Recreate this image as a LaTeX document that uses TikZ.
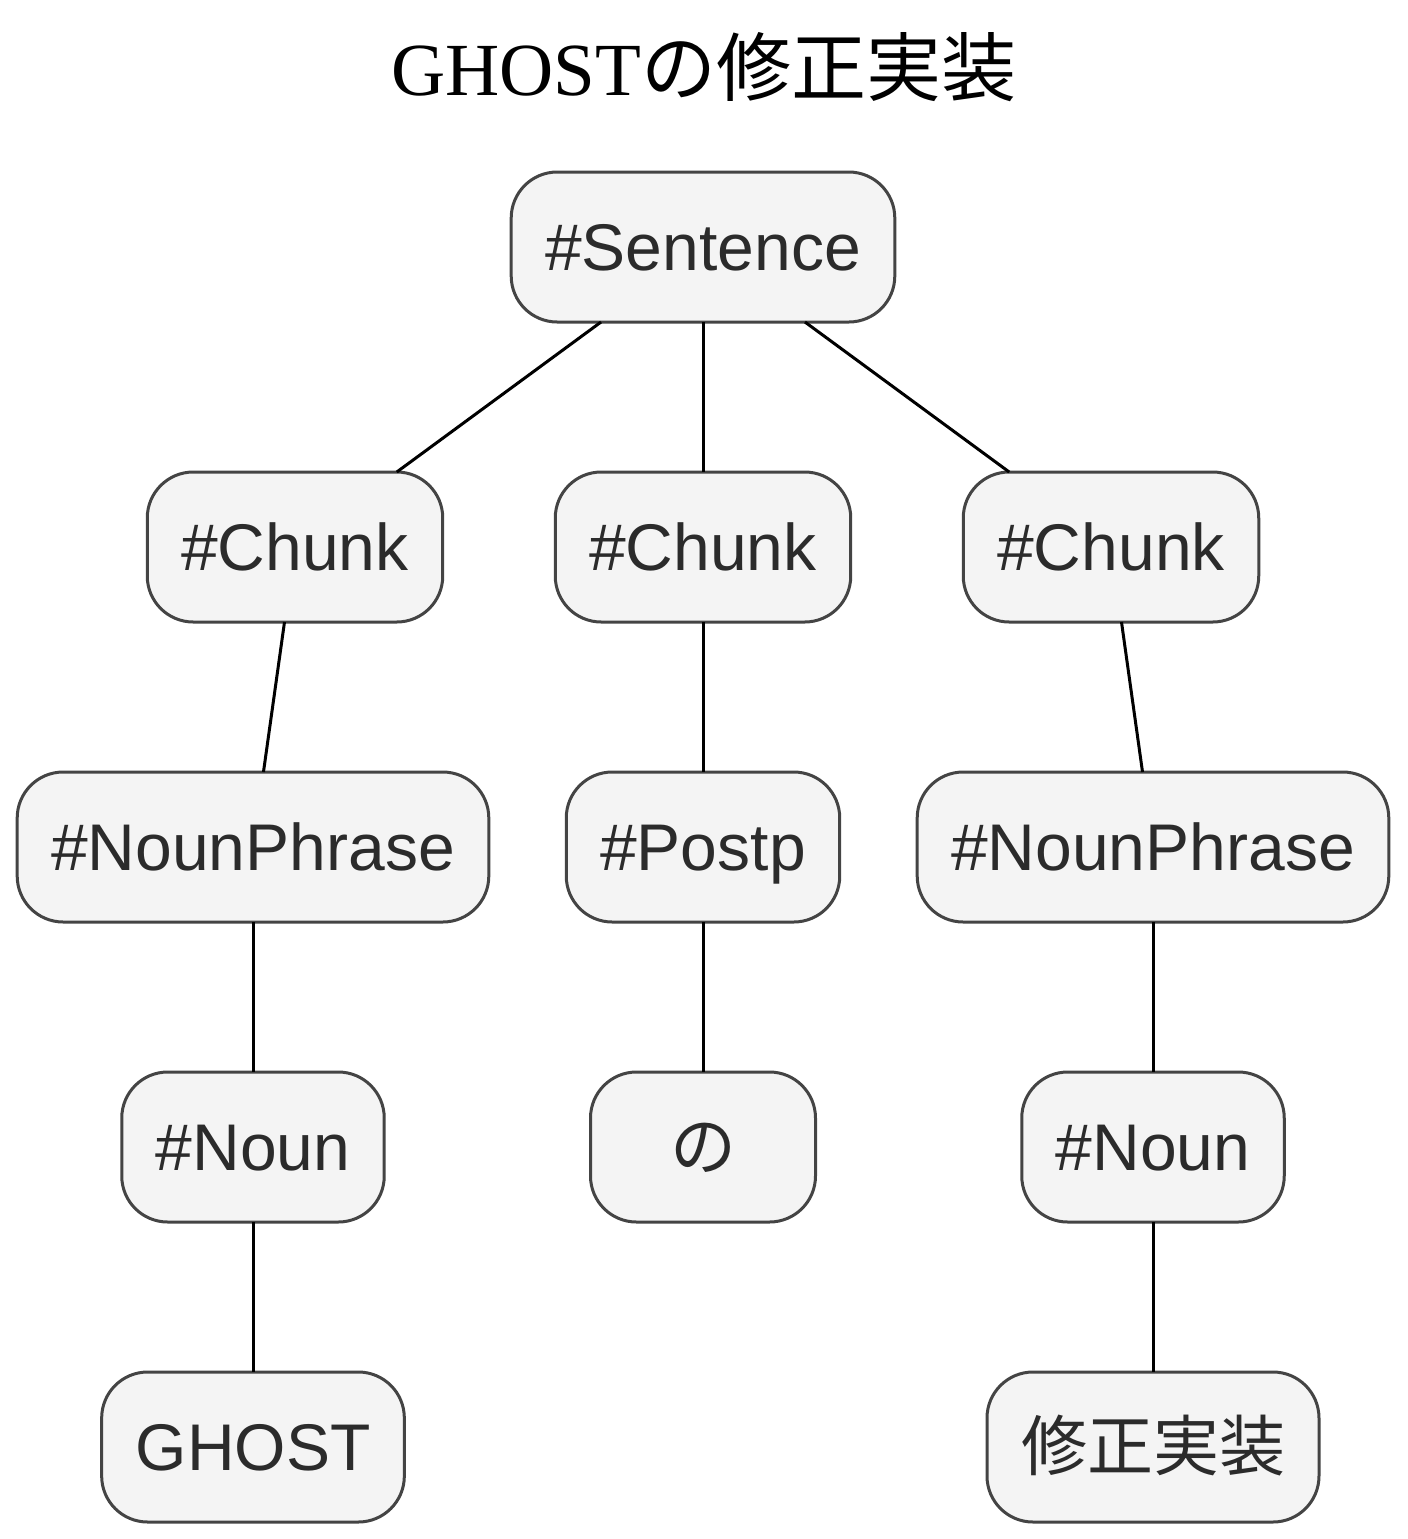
\documentclass[tikz,border=0pt]{standalone}
\usepackage{fontspec}
\setmainfont{Liberation Sans}
\newfontfamily\titlefont{Liberation Serif}
\newfontfamily\cjk{Noto Sans CJK JP}
\usepackage{tikz}
\usetikzlibrary{positioning}

\definecolor{boxfill}{HTML}{F4F4F4}
\definecolor{boxline}{HTML}{444444}
\definecolor{boxtext}{HTML}{2B2B2B}

\begin{document}
\begin{tikzpicture}[x=0.5pt,y=-0.5pt]
  \tikzset{TreeNodeStyle/.style = {
    shape         = rectangle,
    rounded corners = 23pt,
    draw          = boxline,
    fill          = boxfill,
    line width    = 1.5pt,
    text          = boxtext,
    inner xsep    = 17pt,
    inner ysep    = 0pt,
    outer sep     = 0pt,
    minimum height = 75pt,
    text height   = 23.6pt,
    text depth    = 0pt,
    font          = \fontsize{33}{40}\selectfont
    }
  }
  \tikzset{EdgeStyle/.style = {
    draw          = black,
    line width    = 1.5pt
    }
  }

  \useasboundingbox (0,0) rectangle (1408,1539);

  \node[anchor=base, font=\fontsize{37.5}{45}\selectfont](title) at (704, 95)
    {\titlefont GHOST\cjk の修正実装};

  \node[TreeNodeStyle](A1) at (703, 247) {\#Sentence};
  \node[TreeNodeStyle](B1) at (295, 547) {\#Chunk};
  \node[TreeNodeStyle](B2) at (703, 547) {\#Chunk};
  \node[TreeNodeStyle](B3) at (1111, 547) {\#Chunk};
  \node[TreeNodeStyle](C1) at (253, 847) {\#NounPhrase};
  \node[TreeNodeStyle](C2) at (703, 847) {\#Postp};
  \node[TreeNodeStyle](C3) at (1153, 847) {\#NounPhrase};
  \node[TreeNodeStyle](D1) at (253, 1147) {\#Noun};
  \node[TreeNodeStyle, minimum width=112.5pt](D2) at (703, 1147) {\cjk の};
  \node[TreeNodeStyle](D3) at (1153, 1147) {\#Noun};
  \node[TreeNodeStyle](E1) at (253, 1447) {GHOST};
  \node[TreeNodeStyle](E3) at (1153, 1447) {\cjk 修正実装};

  \draw[EdgeStyle](A1) to (B1);
  \draw[EdgeStyle](A1) to (B2);
  \draw[EdgeStyle](A1) to (B3);
  \draw[EdgeStyle](B1) to (C1);
  \draw[EdgeStyle](B2) to (C2);
  \draw[EdgeStyle](B3) to (C3);
  \draw[EdgeStyle](C1) to (D1);
  \draw[EdgeStyle](C2) to (D2);
  \draw[EdgeStyle](C3) to (D3);
  \draw[EdgeStyle](D1) to (E1);
  \draw[EdgeStyle](D3) to (E3);
\end{tikzpicture}
\end{document}
